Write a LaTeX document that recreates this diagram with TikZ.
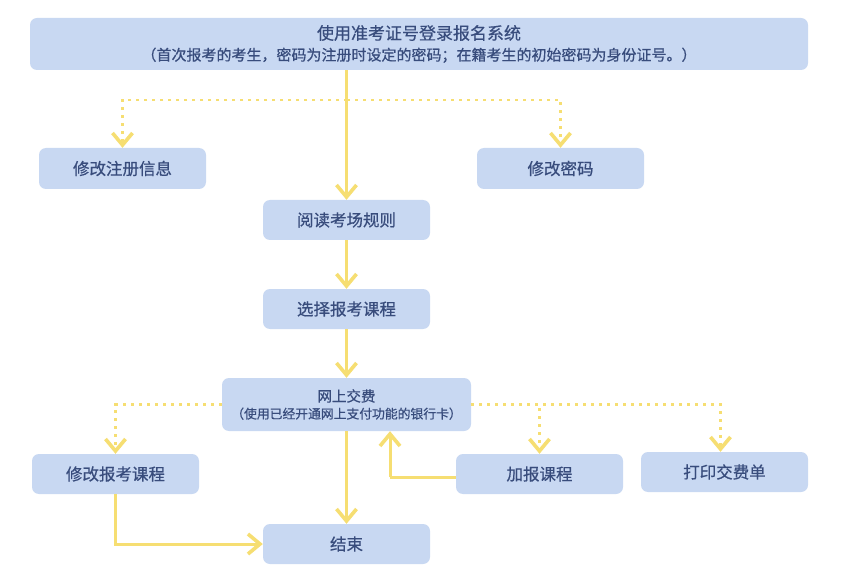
\documentclass[tikz,border=0pt]{standalone}
\usepackage{fontspec}
\setmainfont{Noto Sans CJK SC}[FakeBold=0.6]
\usetikzlibrary{arrows.meta}
\definecolor{boxfill}{HTML}{C8D8F2}
\definecolor{boxtext}{HTML}{384C7C}
\definecolor{arrowy}{HTML}{F6DE72}
\tikzset{
  box/.style={draw=none, fill=boxfill, rounded corners=7pt, text=boxtext,
    minimum width=167pt, minimum height=40pt, inner sep=0pt, align=center,
    font=\fontsize{16.5}{19}\selectfont},
  flow/.style={draw=arrowy, line width=3pt, -{Straight Barb[length=12pt,width=20pt,line width=3.6pt]}},
  flowplain/.style={draw=arrowy, line width=3pt},
  opt/.style={draw=arrowy, line width=2.6pt, dash pattern=on 2.6pt off 5.4pt,
    -{Straight Barb[length=12pt,width=20pt,line width=3.6pt]}}
}
\begin{document}
\begin{tikzpicture}[x=1pt,y=-1pt]
\useasboundingbox (0,0) rectangle (849,588);
\fill[white] (0,0) rectangle (849,588);
\node[box, minimum width=778pt, minimum height=52pt, font=\fontsize{17}{20}\selectfont] (top) at (419,44)
  {使用准考证号登录报名系统\\[1pt]{\fontsize{15}{17}\selectfont （首次报考的考生，密码为注册时设定的密码；在籍考生的初始密码为身份证号。）}};
\node[box, minimum height=41pt] (reg) at (122.5,168.5) {修改注册信息};
\node[box, minimum height=41pt] (pwd) at (560.5,168.5) {修改密码};
\node[box] (rules) at (346.5,220) {阅读考场规则};
\node[box] (select) at (346.5,309) {选择报考课程};
\node[box, minimum width=249pt, minimum height=53pt, font=\fontsize{14.5}{17}\selectfont] (pay) at (346.5,404.5)
  {网上交费\\[0pt]{\fontsize{12.8}{15}\selectfont （使用已经开通网上支付功能的银行卡）}};
\node[box] (modc) at (115.5,474) {修改报考课程};
\node[box] (addc) at (539.5,474) {加报课程};
\node[box] (print) at (724.5,472) {打印交费单};
\node[box] (end) at (346.5,544) {结束};

\coordinate (b1) at (347,100);
\coordinate (b2) at (390,477);

% dotted option branches from top
\draw[opt] (b1) -| (reg.north);
\draw[opt] (b1) -| (pwd.north);
% main flow
\draw[flow] (top.south -| rules.north) -- (rules.north);
\draw[flow] (rules) -- (select);
\draw[flow] (select) -- (pay);
\draw[flow] (pay) -- (end);
% dotted option branches from pay
\draw[opt] (pay.west) -| (modc.north);
\draw[opt] (pay.east) -| (addc.north);
\draw[opt] (pay.east) -| ([xshift=-4pt]print.north);
% add course back to pay
\draw[flowplain] (addc.west |- b2) -- (b2);
\draw[flow] (b2) -- (b2 |- pay.south);
% modify course to end
\draw[flow] (modc.south) |- (end.west);
\end{tikzpicture}
\end{document}
